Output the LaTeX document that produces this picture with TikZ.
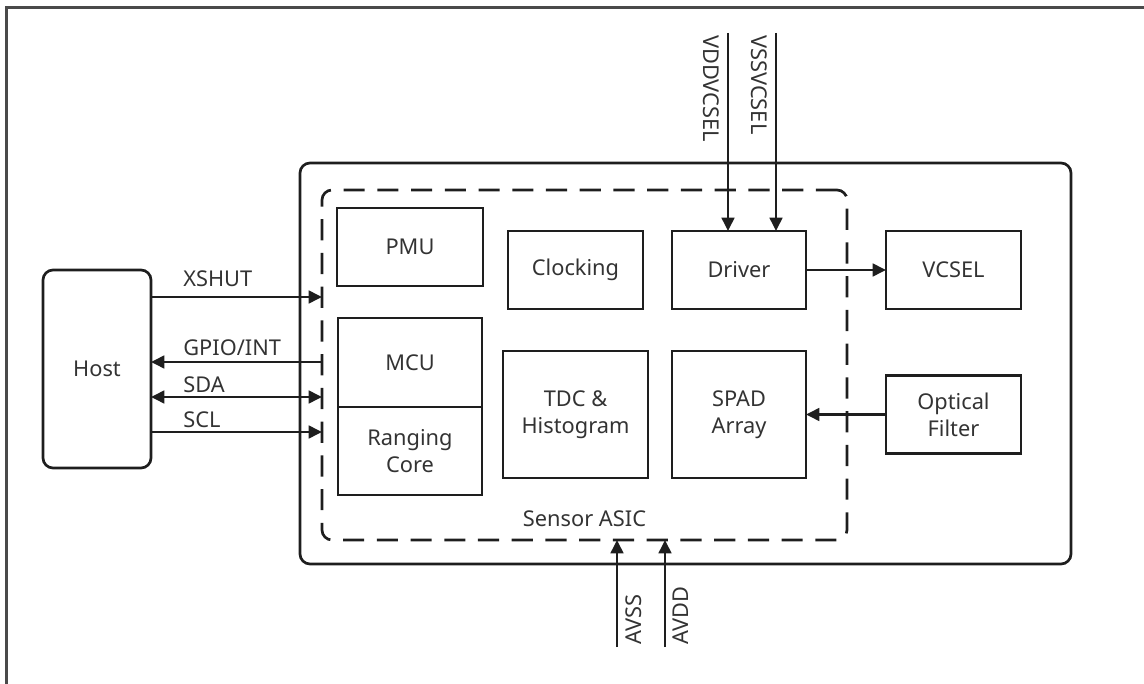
\documentclass[tikz,border=0pt]{standalone}
\usepackage{fontspec}
\setmainfont{Noto Sans}
\usetikzlibrary{arrows.meta, positioning, calc}
\definecolor{inkc}{HTML}{1E1E1E}
\definecolor{txtc}{HTML}{333333}
\definecolor{framec}{HTML}{4A4A4A}

\begin{document}
\begin{tikzpicture}[ % block diagram of the ranging sensor
        font=\fontsize{15.5}{19}\selectfont, % default text size
        blk/.style={rectangle, draw=inkc, line width=1.9pt, align=center, text=txtc, inner sep=0pt, outer sep=0pt}, % plain block
        lbl/.style={text=txtc, inner sep=0pt}, % signal names
        sig/.style={draw=inkc, line width=1.9pt, -{Triangle[length=9.5pt,width=9pt]}}, % signal arrow
        bisig/.style={sig, {Triangle[length=9.5pt,width=9pt]}-{Triangle[length=9.5pt,width=9pt]}} % both ways
    ]
    \clip (0,0) rectangle (28.6,-17.1);
    % --- outer frame ---
    \draw[framec, line width=2.3pt] (0.17,-0.18) rectangle (30,-18);
    % --- module and ASIC outlines ---
    \node (module) [blk, rounded corners=0.25cm, minimum width=19.275cm, minimum height=10.025cm] at (17.1375,-9.0875) {};
    \node (asic) [blk, dash pattern=on 15pt off 9pt, rounded corners=0.25cm, minimum width=13.125cm, minimum height=8.75cm] at (14.6125,-9.125) {};
    \node (asiclbl) [lbl, above=0.33cm of asic.south] {Sensor ASIC};
    % --- blocks ---
    \node (host) [blk, rounded corners=0.25cm, minimum width=2.7cm, minimum height=4.95cm] at (2.425,-9.225) {Host};
    \node (pmu) [blk, minimum width=3.65cm, minimum height=1.95cm] at (10.25,-6.175) {PMU};
    \node (mcu) [blk, minimum width=3.6cm, minimum height=2.225cm] at (10.25,-9.0625) {MCU};
    \node (rng) [blk, below=0cm of mcu, minimum width=3.6cm, minimum height=2.2cm] {Ranging\\Core};
    \node (clk) [blk, minimum width=3.375cm, minimum height=1.95cm] at (14.3875,-6.75) {Clocking};
    \node (drv) [blk, minimum width=3.35cm, minimum height=1.95cm] at (18.475,-6.75) {Driver};
    \node (vcsel) [blk, minimum width=3.375cm, minimum height=1.95cm] at (23.8375,-6.75) {VCSEL};
    \node (tdc) [blk, minimum width=3.625cm, minimum height=3.175cm] at (14.3875,-10.3625) {TDC \&\\Histogram};
    \node (spad) [blk, minimum width=3.35cm, minimum height=3.175cm] at (18.475,-10.3625) {SPAD\\Array};
    \node (filt) [blk, minimum width=3.375cm, minimum height=1.95cm] at (23.8375,-10.3625) {Optical\\Filter};
    % --- host interface ---
    \coordinate (xs) at ([yshift=1.8cm]host.east);
    \coordinate (gp) at ([yshift=0.175cm]host.east);
    \coordinate (sd) at ([yshift=-0.7cm]host.east);
    \coordinate (sc) at ([yshift=-1.575cm]host.east);
    \draw[sig] (xs) -- (xs -| asic.west)
        node[lbl, pos=0, anchor=base west, xshift=0.775cm, yshift=0.25cm] {XSHUT};
    \draw[sig] (gp -| asic.west) -- (gp)
        node[lbl, pos=1, anchor=base west, xshift=0.775cm, yshift=0.15cm] {GPIO/INT};
    \draw[bisig] (sd) -- (sd -| asic.west)
        node[lbl, pos=0, anchor=base west, xshift=0.775cm, yshift=0.1cm] {SDA};
    \draw[sig] (sc) -- (sc -| asic.west)
        node[lbl, pos=0, anchor=base west, xshift=0.775cm, yshift=0.12cm] {SCL};
    % --- optics ---
    \draw[sig] (drv) -- (vcsel);
    \draw[sig] (filt) -- (spad);
    % --- supplies ---
    \coordinate (vddin) at (18.2,-0.825);
    \coordinate (vssin) at (19.4,-0.825);
    \draw[sig] (vddin) -- (vddin |- drv.north);
    \draw[sig] (vssin) -- (vssin |- drv.north);
    \node (vddlbl) [lbl, rotate=-90, anchor=north west] at ($(vddin)+(-0.2,-0.05)$) {VDDVCSEL};
    \node (vsslbl) [lbl, rotate=-90, anchor=north west] at ($(vssin)+(-0.2,-0.05)$) {VSSVCSEL};
    \coordinate (avssin) at (15.425,-16.175);
    \coordinate (avddin) at (16.625,-16.175);
    \draw[sig] (avssin) -- (avssin |- asic.south);
    \draw[sig] (avddin) -- (avddin |- asic.south);
    \node (avsslbl) [lbl, rotate=90, anchor=north west] at ($(avssin)+(0.2,0.05)$) {AVSS};
    \node (avddlbl) [lbl, rotate=90, anchor=north west] at ($(avddin)+(0.2,0.05)$) {AVDD};
\end{tikzpicture}
\end{document}
